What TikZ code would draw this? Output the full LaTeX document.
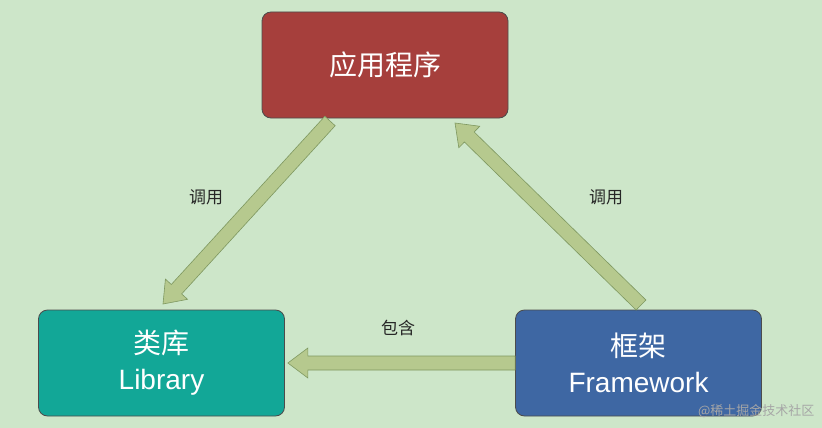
\documentclass[tikz,border=0pt]{standalone}
\usepackage{fontspec}
\setmainfont{Liberation Sans}
\newfontfamily\cjk{Noto Sans CJK SC}
\usetikzlibrary{calc}
\definecolor{bg}{HTML}{CDE6C9}
\definecolor{appred}{HTML}{A63F3C}
\definecolor{libteal}{HTML}{12A797}
\definecolor{fwblue}{HTML}{3E67A3}
\definecolor{arrfill}{HTML}{B6C98E}
\definecolor{arrline}{HTML}{7E9860}
\tikzset{
  box/.style={draw=black!70, line width=0.8pt, rounded corners=9pt, minimum width=246pt, minimum height=106pt, text=white, align=center, font=\fontsize{28}{36}\selectfont},
  lbl/.style={font=\cjk\fontsize{17}{20}\selectfont, text=black!85},
  barrow/.style={fill=arrfill, draw=arrline, line width=0.6pt, line join=miter}
}
\newcommand\blockarrow[2]{%
  \path let \p1=(#1), \p2=(#2), \n1={atan2(\y2-\y1,\x2-\x1)}, \n2={veclen(\x2-\x1,\y2-\y1)-20pt} in
    [barrow] (\p1) ++(\n1+90:7pt) -- ++(\n1:\n2) -- ++(\n1+90:8pt) -- (\p2) -- ($(\p1)+(\n1:\n2)+(\n1-90:15pt)$) -- ++(\n1+90:8pt) -- ($(\p1)+(\n1-90:7pt)$) -- cycle;}
\begin{document}
\begin{tikzpicture}[x=1pt,y=-1pt]
\fill[bg] (0,0) rectangle (822,428);
\useasboundingbox (0,0) rectangle (822,428);
\node[box, fill=appred] (app) at (385,65) {\cjk 应用程序};
\node[box, fill=libteal] (lib) at (161.5,363) {{\cjk 类库}\\Library};
\node[box, fill=fwblue] (fw) at (638.5,363) {{\cjk 框架}\\Framework};
\coordinate (a1s) at (330,121);
\coordinate (a1e) at (163,304);
\coordinate (a2s) at (641,305);
\coordinate (a2e) at (455,123);
\coordinate (a3s) at ($(fw.west)+(0,0)$);
\coordinate (a3e) at ($(lib.east)+(3,0)$);
\blockarrow{a1s}{a1e}
\blockarrow{a2s}{a2e}
\blockarrow{a3s}{a3e}
\node[lbl] (l1) at (206,197) {调用};
\node[lbl] (l2) at (606,197) {调用};
\node[lbl] (l3) at (398,328) {包含};
\node[font=\cjk\fontsize{13}{15}\selectfont, text=black!35, anchor=east] (wm) at (818,411) {@稀土掘金技术社区};
\end{tikzpicture}
\end{document}
